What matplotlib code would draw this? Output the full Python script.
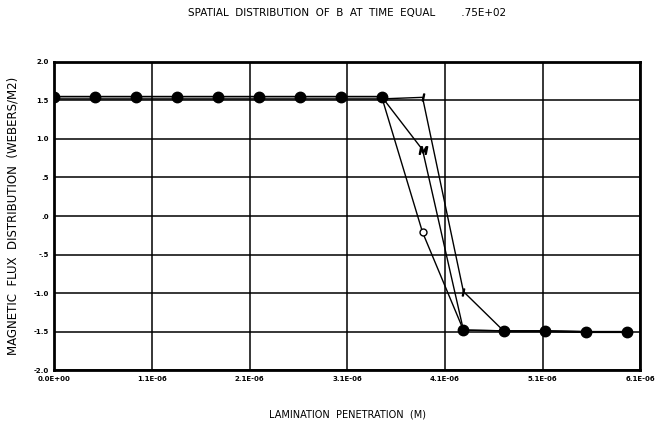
import numpy as np
import matplotlib
matplotlib.use("Agg")
import matplotlib.pyplot as plt

# ---- data ----
grid_step = 6.1e-6 / 6.0
x_ticks = [i * grid_step for i in range(7)]
x_tick_labels = ["0.0E+00", "1.1E-06", "2.1E-06", "3.1E-06", "4.1E-06", "5.1E-06", "6.1E-06"]
y_ticks = [2.0, 1.5, 1.0, 0.5, 0.0, -0.5, -1.0, -1.5, -2.0]
y_tick_labels = ["2.0", "1.5", "1.0", ".5", ".0", "-.5", "-1.0", "-1.5", "-2.0"]

node_step = 0.419 * grid_step
x_nodes = [i * node_step for i in range(15)]

series_O = [1.55, 1.55, 1.55, 1.55, 1.55, 1.55, 1.55, 1.55, 1.55, -0.21, -1.48, -1.49, -1.49, -1.50, -1.50]
series_M = [1.55, 1.55, 1.55, 1.55, 1.55, 1.55, 1.55, 1.55, 1.55, 0.86, -1.48, -1.49, -1.49, -1.50, -1.50]
series_I = [1.52, 1.52, 1.52, 1.52, 1.52, 1.52, 1.52, 1.52, 1.52, 1.54, -0.98, -1.50, -1.50, -1.51, -1.51]

title = "SPATIAL  DISTRIBUTION  OF  B  AT  TIME  EQUAL        .75E+02"
xlabel = "LAMINATION  PENETRATION  (M)"
ylabel = "MAGNETIC  FLUX  DISTRIBUTION  (WEBERS/M2)"

# ---- plot ----
fig = plt.figure(figsize=(6.71, 4.24), dpi=100)
ax = fig.add_axes([0.081, 0.127, 0.873, 0.727])

ax.set_xlim(0, 6.1e-6)
ax.set_ylim(-2.0, 2.0)
ax.set_xticks(x_ticks)
ax.set_xticklabels(x_tick_labels)
ax.set_yticks(y_ticks)
ax.set_yticklabels(y_tick_labels)
ax.grid(True, color="black", linewidth=1.1)
ax.tick_params(axis="both", length=0, labelsize=5, pad=4)
for lbl in ax.get_xticklabels() + ax.get_yticklabels():
    lbl.set_fontweight("bold")
for s in ax.spines.values():
    s.set_linewidth(2.0)
    s.set_color("black")

series = [series_O, series_M, series_I]
for ys in series:
    ax.plot(x_nodes, ys, color="black", linewidth=1.0, zorder=3)

arr = np.array(series)
xn = np.array(x_nodes)
# points where the series overprint each other -> filled dots
close_OM = np.abs(arr[0] - arr[1]) < 0.06
ax.plot(xn[close_OM], arr[0][close_OM], linestyle="none", marker="o",
        markersize=7.5, color="black", zorder=5)
# individual symbols where series separate
sep = ~close_OM
ax.plot(xn[sep], arr[0][sep], linestyle="none", marker="o", markersize=5,
        markerfacecolor="white", markeredgecolor="black", markeredgewidth=1.0, zorder=6)
ax.plot(xn[sep], arr[1][sep], linestyle="none", marker="$M$", markersize=6,
        color="black", zorder=6)
sepI = np.abs(arr[2] - arr[0]) > 0.1
ax.plot(xn[sepI], arr[2][sepI], linestyle="none", marker="$I$", markersize=5,
        color="black", zorder=6)

ax.set_title(title, fontsize=7.5, pad=33)
ax.set_xlabel(xlabel, fontsize=7, labelpad=20)
ax.set_ylabel(ylabel, fontsize=8.5, labelpad=10)

fig.savefig("out.png", dpi=100)
